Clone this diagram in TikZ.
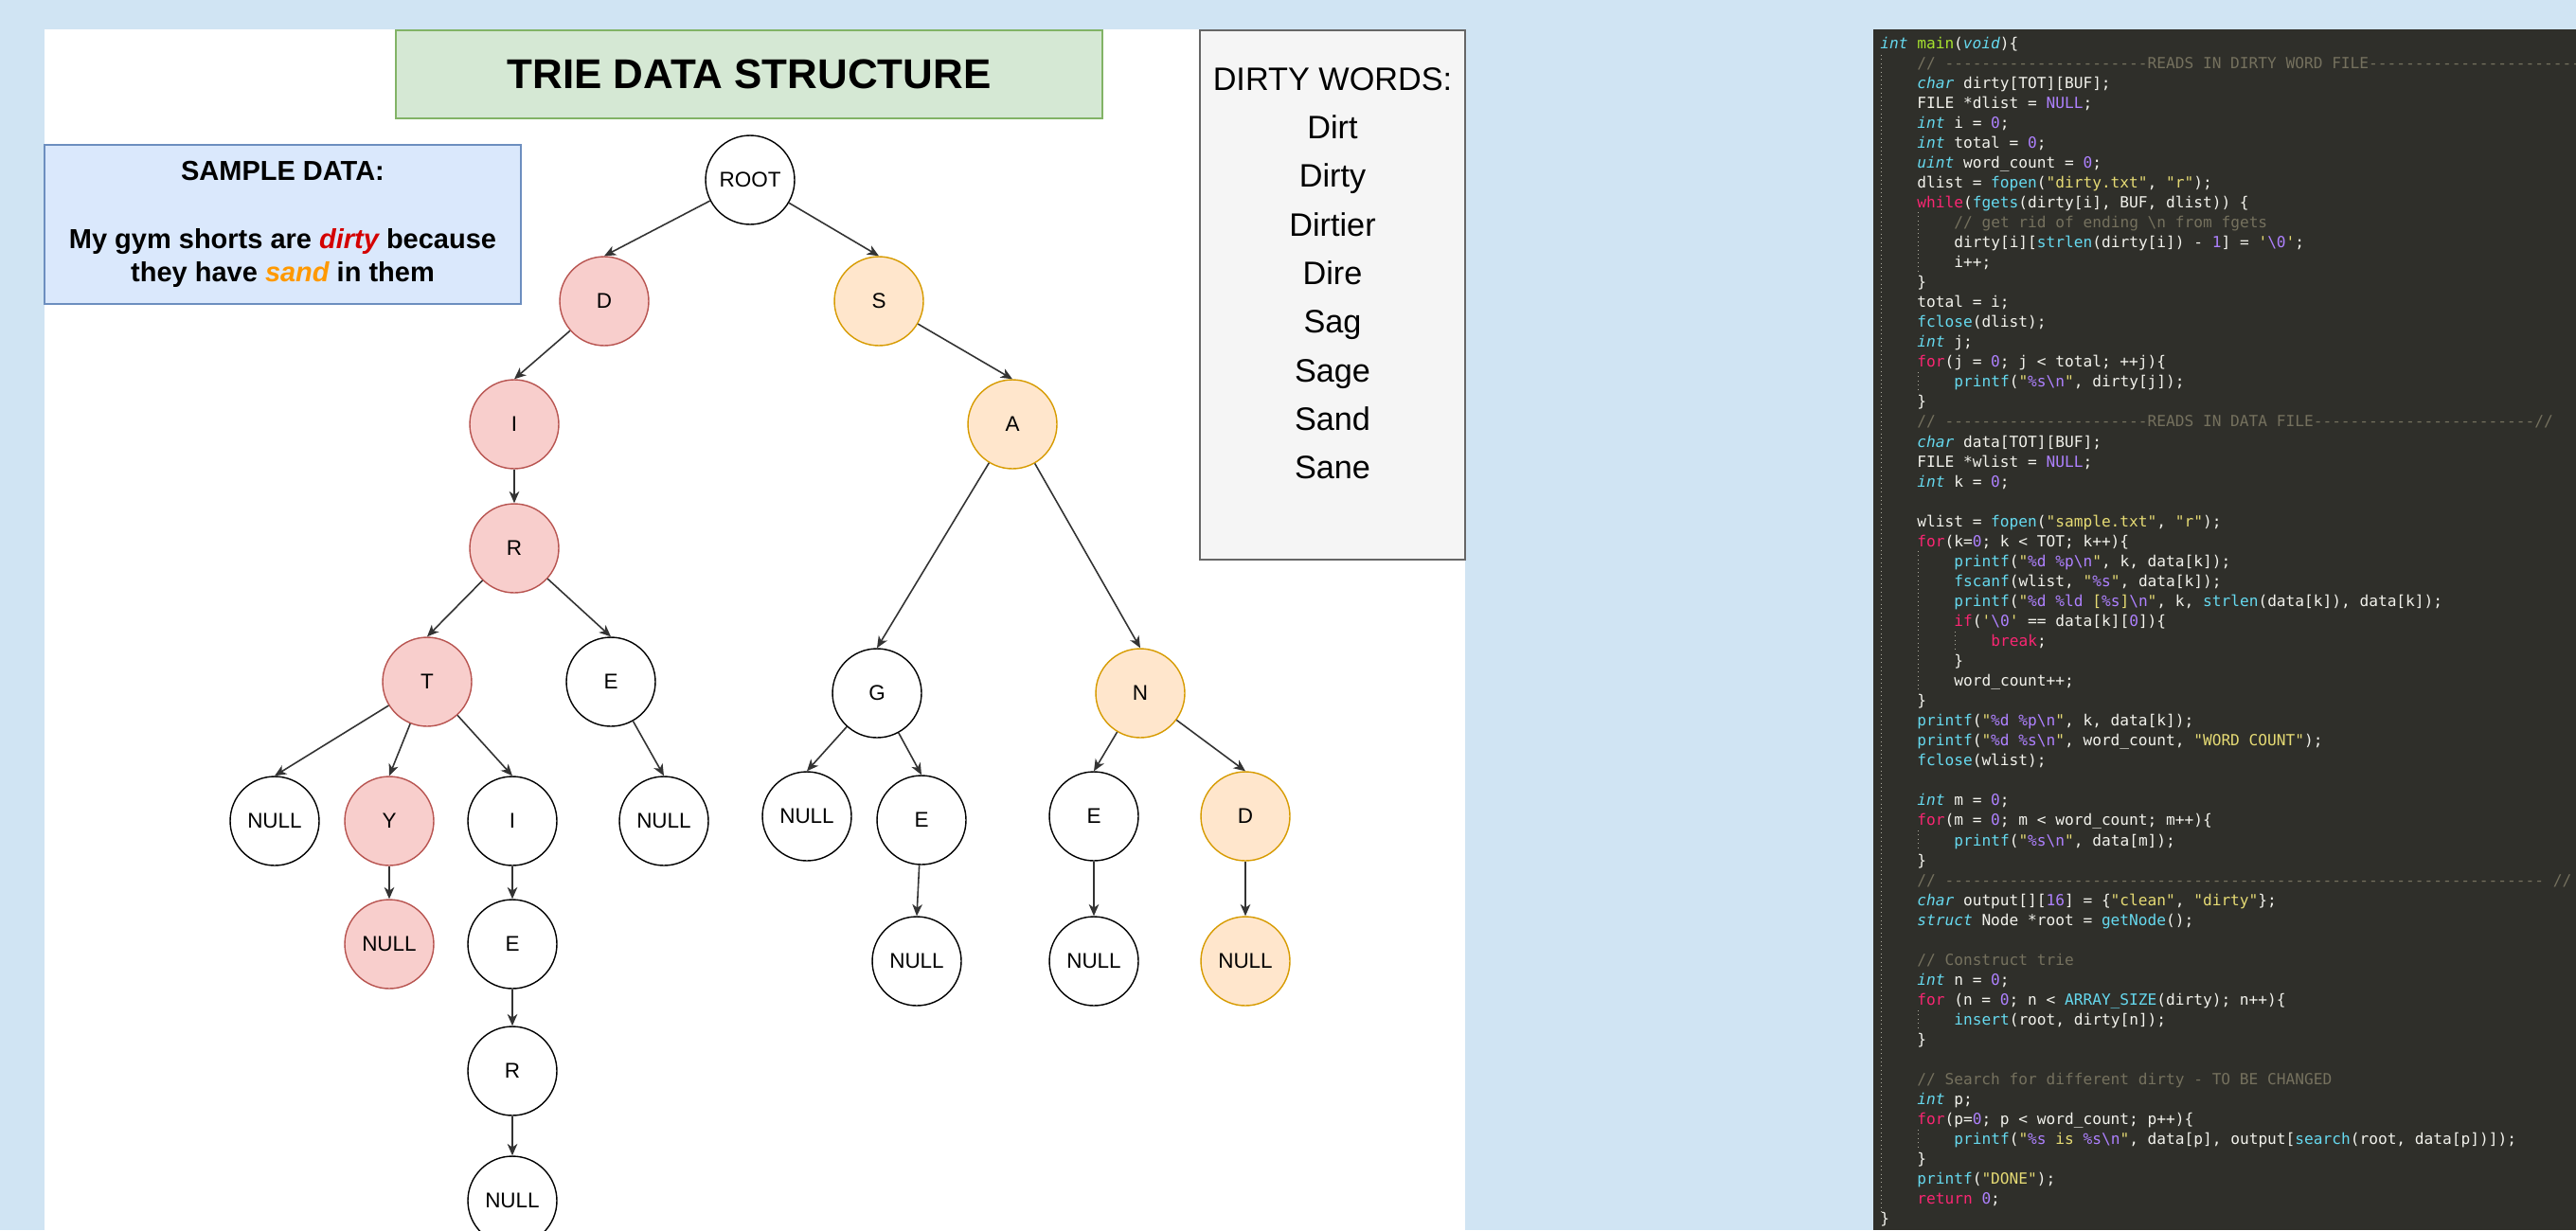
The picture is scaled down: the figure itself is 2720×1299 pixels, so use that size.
\documentclass[tikz,border=0pt]{standalone}
\usepackage{fontspec}
\setmainfont{Liberation Sans}
\setmonofont{DejaVu Sans Mono}
\usepackage{tikz}
\usetikzlibrary{arrows.meta}

\definecolor{bgblue}{RGB}{208,228,243}
\definecolor{titlefill}{HTML}{D5E8D4}
\definecolor{titlestroke}{HTML}{82B366}
\definecolor{samplefill}{HTML}{DAE8FC}
\definecolor{samplestroke}{HTML}{6C8EBF}
\definecolor{boxfill}{HTML}{F5F5F5}
\definecolor{boxstroke}{HTML}{666666}
\definecolor{dfill}{HTML}{F8CECC}
\definecolor{dstroke}{HTML}{B85450}
\definecolor{sfill}{HTML}{FFE6CC}
\definecolor{sstroke}{HTML}{D79B00}
\definecolor{dirtyred}{HTML}{D40000}
\definecolor{sandorange}{HTML}{FF9900}
\definecolor{linkgrey}{HTML}{333333}
\definecolor{codebg}{RGB}{47,47,42}
\definecolor{codefg}{HTML}{F2F2EC}
\definecolor{codecmt}{HTML}{75715E}
\definecolor{codepink}{HTML}{F92672}
\definecolor{codecyan}{HTML}{66D9EF}
\definecolor{codegreen}{HTML}{A6E22E}
\definecolor{codepurple}{HTML}{AE81FF}
\definecolor{codeyellow}{HTML}{E6DB74}

\newcommand{\codefont}{\ttfamily\fontsize{9.2}{11.9}\selectfont}
\newcommand{\cty}[1]{\textcolor{codecyan}{\itshape #1}}
\newcommand{\cfn}[1]{\textcolor{codecyan}{#1}}
\newcommand{\cctl}[1]{\textcolor{codepink}{#1}}
\newcommand{\cnum}[1]{\textcolor{codepurple}{#1}}
\newcommand{\cstr}[1]{\textcolor{codeyellow}{#1}}
\newcommand{\ccmt}[1]{\textcolor{codecmt}{#1}}
\newcommand{\cmain}[1]{\textcolor{codegreen}{#1}}
\newcommand{\bs}{\textbackslash}
\newcommand{\codeline}[3]{\node[codetext] (code#1) at ({1985+39*#2},{51+21.05*(#1-1)}) {#3};}

\begin{document}
\begin{tikzpicture}[x=0.02cm,y=-0.02cm,
  trie/.style={circle,draw=black,fill=white,line width=0.8pt,minimum size=1.88cm,inner sep=0pt,font=\fontsize{12.8}{15}\selectfont},
  dirt/.style={trie,draw=dstroke,fill=dfill},
  sand/.style={trie,draw=sstroke,fill=sfill},
  link/.style={-{Stealth[length=7pt,width=6pt,inset=2pt]},line width=0.9pt,draw=linkgrey},
  guide/.style={codecmt!60,dotted,line width=0.5pt},
  codetext/.style={anchor=base west,inner sep=0pt,text=codefg,font=\codefont}]
\useasboundingbox (0,0) rectangle (2720,1299);
\fill[bgblue] (0,0) rectangle (2720,1299);
\fill[white] (47,31) rectangle (1547,1299);

\node[draw=titlestroke,fill=titlefill,line width=0.8pt,minimum width=14.92cm,minimum height=1.86cm,font=\fontsize{25}{30}\selectfont\bfseries] (title) at (791,78.5) {TRIE DATA STRUCTURE};
\node[draw=samplestroke,fill=samplefill,line width=0.8pt,minimum width=10.06cm,minimum height=3.36cm,align=center,font=\fontsize{16.5}{19.8}\selectfont\bfseries] (sample) at (298.5,237) {SAMPLE DATA:\\[21pt] My gym shorts are \textcolor{dirtyred}{\itshape dirty} because\\ they have \textcolor{sandorange}{\itshape sand} in them};
\node[draw=boxstroke,fill=boxfill,line width=0.8pt,minimum width=5.6cm,minimum height=11.18cm] (wordbox) at (1407,311.5) {};
\node[align=center,inner sep=0pt,anchor=north,font=\fontsize{19.5}{29.2}\selectfont] (wordlist) at (1407,71) {DIRTY WORDS:\\Dirt\\Dirty\\Dirtier\\Dire\\Sag\\Sage\\Sand\\Sane};

\node[trie] (root)        at (792,190)  {ROOT};
\node[dirt] (d)           at (638,318)  {D};
\node[sand] (s)           at (928,318)  {S};
\node[dirt] (di)          at (543,448)  {I};
\node[sand] (sa)          at (1069,448) {A};
\node[dirt] (dir)         at (543,579)  {R};
\node[dirt] (dirt)        at (451,720)  {T};
\node[trie] (dire)        at (645,720)  {E};
\node[trie] (sag)         at (926,732)  {G};
\node[sand] (san)         at (1204,732) {N};
\node[trie] (dirtnull)    at (290,867)  {NULL};
\node[dirt] (dirty)       at (411,867)  {Y};
\node[trie] (dirti)       at (541,867)  {I};
\node[trie] (direnull)    at (701,867)  {NULL};
\node[trie] (sagnull)     at (852,862)  {NULL};
\node[trie] (sage)        at (973,866)  {E};
\node[trie] (sane)        at (1155,862) {E};
\node[sand] (sand)        at (1315,862) {D};
\node[dirt] (dirtynull)   at (411,997)  {NULL};
\node[trie] (dirtie)      at (541,997)  {E};
\node[trie] (sagenull)    at (968,1015) {NULL};
\node[trie] (sanenull)    at (1155,1015){NULL};
\node[sand] (sandnull)    at (1315,1015){NULL};
\node[trie] (dirtier)     at (541,1131) {R};
\node[trie] (dirtiernull) at (541,1268) {NULL};

\draw[link] (root)    -- (d.north);
\draw[link] (root)    -- (s.north);
\draw[link] (d)       -- (di.north);
\draw[link] (di)      -- (dir.north);
\draw[link] (dir)     -- (dirt.north);
\draw[link] (dir)     -- (dire.north);
\draw[link] (dirt)    -- (dirtnull.north);
\draw[link] (dirt)    -- (dirty.north);
\draw[link] (dirt)    -- (dirti.north);
\draw[link] (dirty)   -- (dirtynull.north);
\draw[link] (dirti)   -- (dirtie.north);
\draw[link] (dirtie)  -- (dirtier.north);
\draw[link] (dirtier) -- (dirtiernull.north);
\draw[link] (dire)    -- (direnull.north);
\draw[link] (s)       -- (sa.north);
\draw[link] (sa)      -- (sag.north);
\draw[link] (sa)      -- (san.north);
\draw[link] (sag)     -- (sagnull.north);
\draw[link] (sag)     -- (sage.north);
\draw[link] (sage)    -- (sagenull.north);
\draw[link] (san)     -- (sane.north);
\draw[link] (san)     -- (sand.north);
\draw[link] (sane)    -- (sanenull.north);
\draw[link] (sand)    -- (sandnull.north);

\begin{scope}
\clip (1978,31) rectangle (2720,1299);
\fill[codebg] (1978,31) rectangle (2720,1299);
\draw[guide] (1986,58) -- (1986,1280);
\draw[guide] (2025,224) -- (2025,288);
\draw[guide] (2025,393) -- (2025,414);
\draw[guide] (2025,582) -- (2025,730);
\draw[guide] (2064,667) -- (2064,688);
\draw[guide] (2025,877) -- (2025,898);
\draw[guide] (2025,1067) -- (2025,1088);
\draw[guide] (2025,1193) -- (2025,1214);
\codeline{1}{0}{\cty{int} \cmain{main}(\cty{void})\{}
\codeline{2}{1}{\ccmt{// ----------------------READS IN DIRTY WORD FILE------------------------}}
\codeline{3}{1}{\cty{char} dirty[TOT][BUF];}
\codeline{4}{1}{FILE *dlist = \cnum{NULL};}
\codeline{5}{1}{\cty{int} i = \cnum{0};}
\codeline{6}{1}{\cty{int} total = \cnum{0};}
\codeline{7}{1}{\cty{uint} word\_count = \cnum{0};}
\codeline{8}{1}{dlist = \cfn{fopen}(\cstr{"dirty.txt"}, \cstr{"r"});}
\codeline{9}{1}{\cctl{while}(\cfn{fgets}(dirty[i], BUF, dlist)) \{}
\codeline{10}{2}{\ccmt{// get rid of ending \bs n from fgets}}
\codeline{11}{2}{dirty[i][\cfn{strlen}(dirty[i]) - \cnum{1}] = \cstr{'}\cnum{\bs 0}\cstr{'};}
\codeline{12}{2}{i++;}
\codeline{13}{1}{\}}
\codeline{14}{1}{total = i;}
\codeline{15}{1}{\cfn{fclose}(dlist);}
\codeline{16}{1}{\cty{int} j;}
\codeline{17}{1}{\cctl{for}(j = \cnum{0}; j < total; ++j)\{}
\codeline{18}{2}{\cfn{printf}(\cstr{"}\cnum{\%s\bs n}\cstr{"}, dirty[j]);}
\codeline{19}{1}{\}}
\codeline{20}{1}{\ccmt{// ----------------------READS IN DATA FILE------------------------//}}
\codeline{21}{1}{\cty{char} data[TOT][BUF];}
\codeline{22}{1}{FILE *wlist = \cnum{NULL};}
\codeline{23}{1}{\cty{int} k = \cnum{0};}
\codeline{25}{1}{wlist = \cfn{fopen}(\cstr{"sample.txt"}, \cstr{"r"});}
\codeline{26}{1}{\cctl{for}(k=\cnum{0}; k < TOT; k++)\{}
\codeline{27}{2}{\cfn{printf}(\cstr{"}\cnum{\%d \%p\bs n}\cstr{"}, k, data[k]);}
\codeline{28}{2}{\cfn{fscanf}(wlist, \cstr{"}\cnum{\%s}\cstr{"}, data[k]);}
\codeline{29}{2}{\cfn{printf}(\cstr{"}\cnum{\%d \%ld} \cstr{[}\cnum{\%s}\cstr{]}\cnum{\bs n}\cstr{"}, k, \cfn{strlen}(data[k]), data[k]);}
\codeline{30}{2}{\cctl{if}(\cstr{'}\cnum{\bs 0}\cstr{'} == data[k][\cnum{0}])\{}
\codeline{31}{3}{\cctl{break};}
\codeline{32}{2}{\}}
\codeline{33}{2}{word\_count++;}
\codeline{34}{1}{\}}
\codeline{35}{1}{\cfn{printf}(\cstr{"}\cnum{\%d \%p\bs n}\cstr{"}, k, data[k]);}
\codeline{36}{1}{\cfn{printf}(\cstr{"}\cnum{\%d \%s\bs n}\cstr{"}, word\_count, \cstr{"WORD COUNT"});}
\codeline{37}{1}{\cfn{fclose}(wlist);}
\codeline{39}{1}{\cty{int} m = \cnum{0};}
\codeline{40}{1}{\cctl{for}(m = \cnum{0}; m < word\_count; m++)\{}
\codeline{41}{2}{\cfn{printf}(\cstr{"}\cnum{\%s\bs n}\cstr{"}, data[m]);}
\codeline{42}{1}{\}}
\codeline{43}{1}{\ccmt{// ----------------------------------------------------------------- //}}
\codeline{44}{1}{\cty{char} output[][\cnum{16}] = \{\cstr{"clean"}, \cstr{"dirty"}\};}
\codeline{45}{1}{\cty{struct} Node *root = \cfn{getNode}();}
\codeline{47}{1}{\ccmt{// Construct trie}}
\codeline{48}{1}{\cty{int} n = \cnum{0};}
\codeline{49}{1}{\cctl{for} (n = \cnum{0}; n < \cfn{ARRAY\_SIZE}(dirty); n++)\{}
\codeline{50}{2}{\cfn{insert}(root, dirty[n]);}
\codeline{51}{1}{\}}
\codeline{53}{1}{\ccmt{// Search for different dirty - TO BE CHANGED}}
\codeline{54}{1}{\cty{int} p;}
\codeline{55}{1}{\cctl{for}(p=\cnum{0}; p < word\_count; p++)\{}
\codeline{56}{2}{\cfn{printf}(\cstr{"}\cnum{\%s} \cstr{is }\cnum{\%s\bs n}\cstr{"}, data[p], output[\cfn{search}(root, data[p])]);}
\codeline{57}{1}{\}}
\codeline{58}{1}{\cfn{printf}(\cstr{"DONE"});}
\codeline{59}{1}{\cctl{return} \cnum{0};}
\codeline{60}{0}{\}}
\end{scope}
\end{tikzpicture}
\end{document}
